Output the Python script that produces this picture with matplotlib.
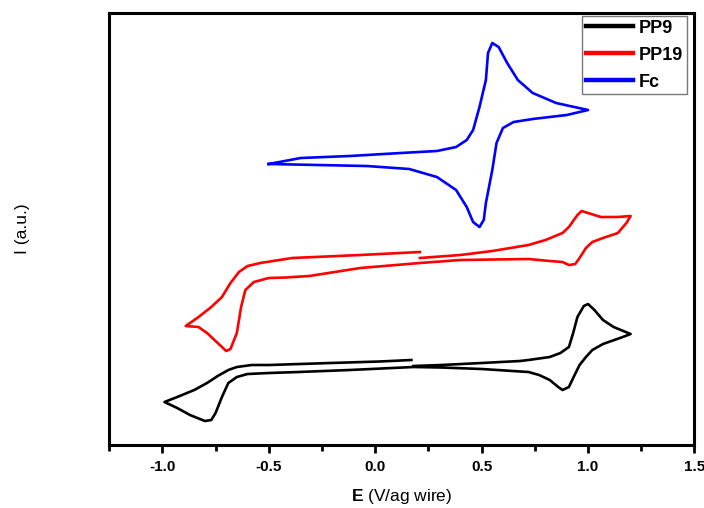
import matplotlib
matplotlib.use("Agg")
import matplotlib.pyplot as plt
from matplotlib.ticker import MultipleLocator, NullLocator

plt.rcParams['font.family'] = ['Liberation Sans', 'DejaVu Sans']
plt.rcParams['mathtext.fontset'] = 'custom'
plt.rcParams['mathtext.bf'] = 'Liberation Sans:bold'
plt.rcParams['mathtext.rm'] = 'Liberation Sans'

# ---- data (E in V vs Ag wire, I in arbitrary units) ----
pp9_E = [0.18, 0.31, 0.50, 0.68, 0.72, 0.82, 0.87, 0.91, 0.93, 0.95,
         0.98, 1.00, 1.03, 1.07, 1.12, 1.20, 1.15, 1.07, 1.02, 0.99,
         0.96, 0.93, 0.91, 0.88, 0.86, 0.82, 0.77, 0.72, 0.50, 0.31,
         0.18, -0.12, -0.36, -0.50, -0.60, -0.65, -0.69, -0.72, -0.75, -0.77,
         -0.80, -0.87, -0.93, -0.99, -0.93, -0.85, -0.79, -0.74, -0.69, -0.65,
         -0.58, -0.50, -0.21, 0.02, 0.17]
pp9_I = [0.79, 0.80, 0.82, 0.84, 0.85, 0.88, 0.92, 0.98, 1.12, 1.28,
         1.39, 1.41, 1.35, 1.25, 1.18, 1.11, 1.07, 1.01, 0.95, 0.88,
         0.80, 0.67, 0.58, 0.55, 0.58, 0.65, 0.70, 0.73, 0.76, 0.775,
         0.78, 0.75, 0.73, 0.72, 0.71, 0.68, 0.62, 0.48, 0.32, 0.25,
         0.24, 0.30, 0.37, 0.43, 0.48, 0.55, 0.62, 0.69, 0.75, 0.78,
         0.80, 0.80, 0.82, 0.835, 0.85]

pp19_E = [0.21, 0.40, 0.55, 0.72, 0.80, 0.88, 0.91, 0.95, 0.97, 1.00,
          1.06, 1.14, 1.20, 1.18, 1.14, 1.07, 1.02, 0.99, 0.96, 0.94,
          0.91, 0.88, 0.82, 0.72, 0.40, 0.21, -0.07, -0.31, -0.42, -0.50,
          -0.57, -0.61, -0.63, -0.65, -0.68, -0.70, -0.74, -0.79, -0.83, -0.89,
          -0.83, -0.77, -0.72, -0.68, -0.64, -0.60, -0.54, -0.39, -0.07, 0.21]
pp19_I = [1.87, 1.90, 1.94, 2.00, 2.05, 2.12, 2.18, 2.30, 2.34, 2.32,
          2.28, 2.28, 2.29, 2.22, 2.12, 2.07, 2.03, 1.97, 1.87, 1.81,
          1.80, 1.83, 1.84, 1.86, 1.85, 1.82, 1.77, 1.69, 1.675, 1.67,
          1.63, 1.55, 1.38, 1.12, 0.96, 0.94, 1.02, 1.12, 1.18, 1.19,
          1.28, 1.38, 1.48, 1.62, 1.73, 1.79, 1.82, 1.87, 1.90, 1.93]

fc_E = [-0.50, -0.35, -0.12, 0.12, 0.29, 0.38, 0.43, 0.46, 0.49, 0.52,
        0.53, 0.55, 0.58, 0.62, 0.67, 0.74, 0.85, 1.00, 0.90, 0.74,
        0.65, 0.60, 0.57, 0.55, 0.52, 0.51, 0.49, 0.46, 0.43, 0.38,
        0.29, 0.16, -0.04, -0.27, -0.50]
fc_I = [2.81, 2.87, 2.89, 2.92, 2.94, 2.98, 3.05, 3.15, 3.38, 3.65,
        3.92, 4.02, 3.98, 3.82, 3.65, 3.52, 3.42, 3.35, 3.30, 3.26,
        3.23, 3.17, 3.02, 2.75, 2.42, 2.25, 2.18, 2.23, 2.38, 2.55,
        2.68, 2.76, 2.79, 2.80, 2.81]

labels = ['PP9', 'PP19', 'Fc']
colors = ['#000000', '#ff0000', '#0000ff']
x_ticks = [-1.0, -0.5, 0.0, 0.5, 1.0, 1.5]
x_tick_labels = ['-1.0', '-0.5', '0.0', '0.5', '1.0', '1.5']

fig = plt.figure(figsize=(7.04, 5.08), dpi=100)
ax = fig.add_axes([0.155, 0.124, 0.8315, 0.8504])

series = [(pp9_E, pp9_I), (pp19_E, pp19_I), (fc_E, fc_I)]
for (e, i), lab, c in zip(series, labels, colors):
    ax.plot(e, i, color=c, lw=1.9, label=lab, solid_joinstyle='round')

ax.set_xlim(-1.25, 1.5)
ax.set_ylim(0, 4.32)
ax.set_xticks(x_ticks)
ax.set_xticklabels(x_tick_labels, fontsize=11, fontweight='bold')
ax.xaxis.set_minor_locator(MultipleLocator(0.25))
ax.yaxis.set_major_locator(NullLocator())
ax.yaxis.set_minor_locator(NullLocator())
ax.tick_params(axis='x', which='major', direction='out', length=6, width=2, pad=5)
ax.tick_params(axis='x', which='minor', direction='out', length=4, width=2)
for s in ax.spines.values():
    s.set_linewidth(2.2)

ax.set_xlabel(r'$\mathbf{E}$ (V/ag wire)', fontsize=12.5, labelpad=9)
ax.set_ylabel('I (a.u.)', fontsize=12.5, labelpad=57)

leg = ax.legend(loc='upper right', bbox_to_anchor=(0.987, 0.993), borderaxespad=0,
                frameon=True, fancybox=False, handlelength=2.6, handletextpad=0.35,
                labelspacing=0.55, borderpad=0.2,
                prop={'family': 'Liberation Sans', 'weight': 'bold', 'size': 13})
leg.get_frame().set_edgecolor('#555555')
leg.get_frame().set_linewidth(1.0)
for h in leg.get_lines():
    h.set_linewidth(3.2)

fig.savefig('out.png', dpi=100)
